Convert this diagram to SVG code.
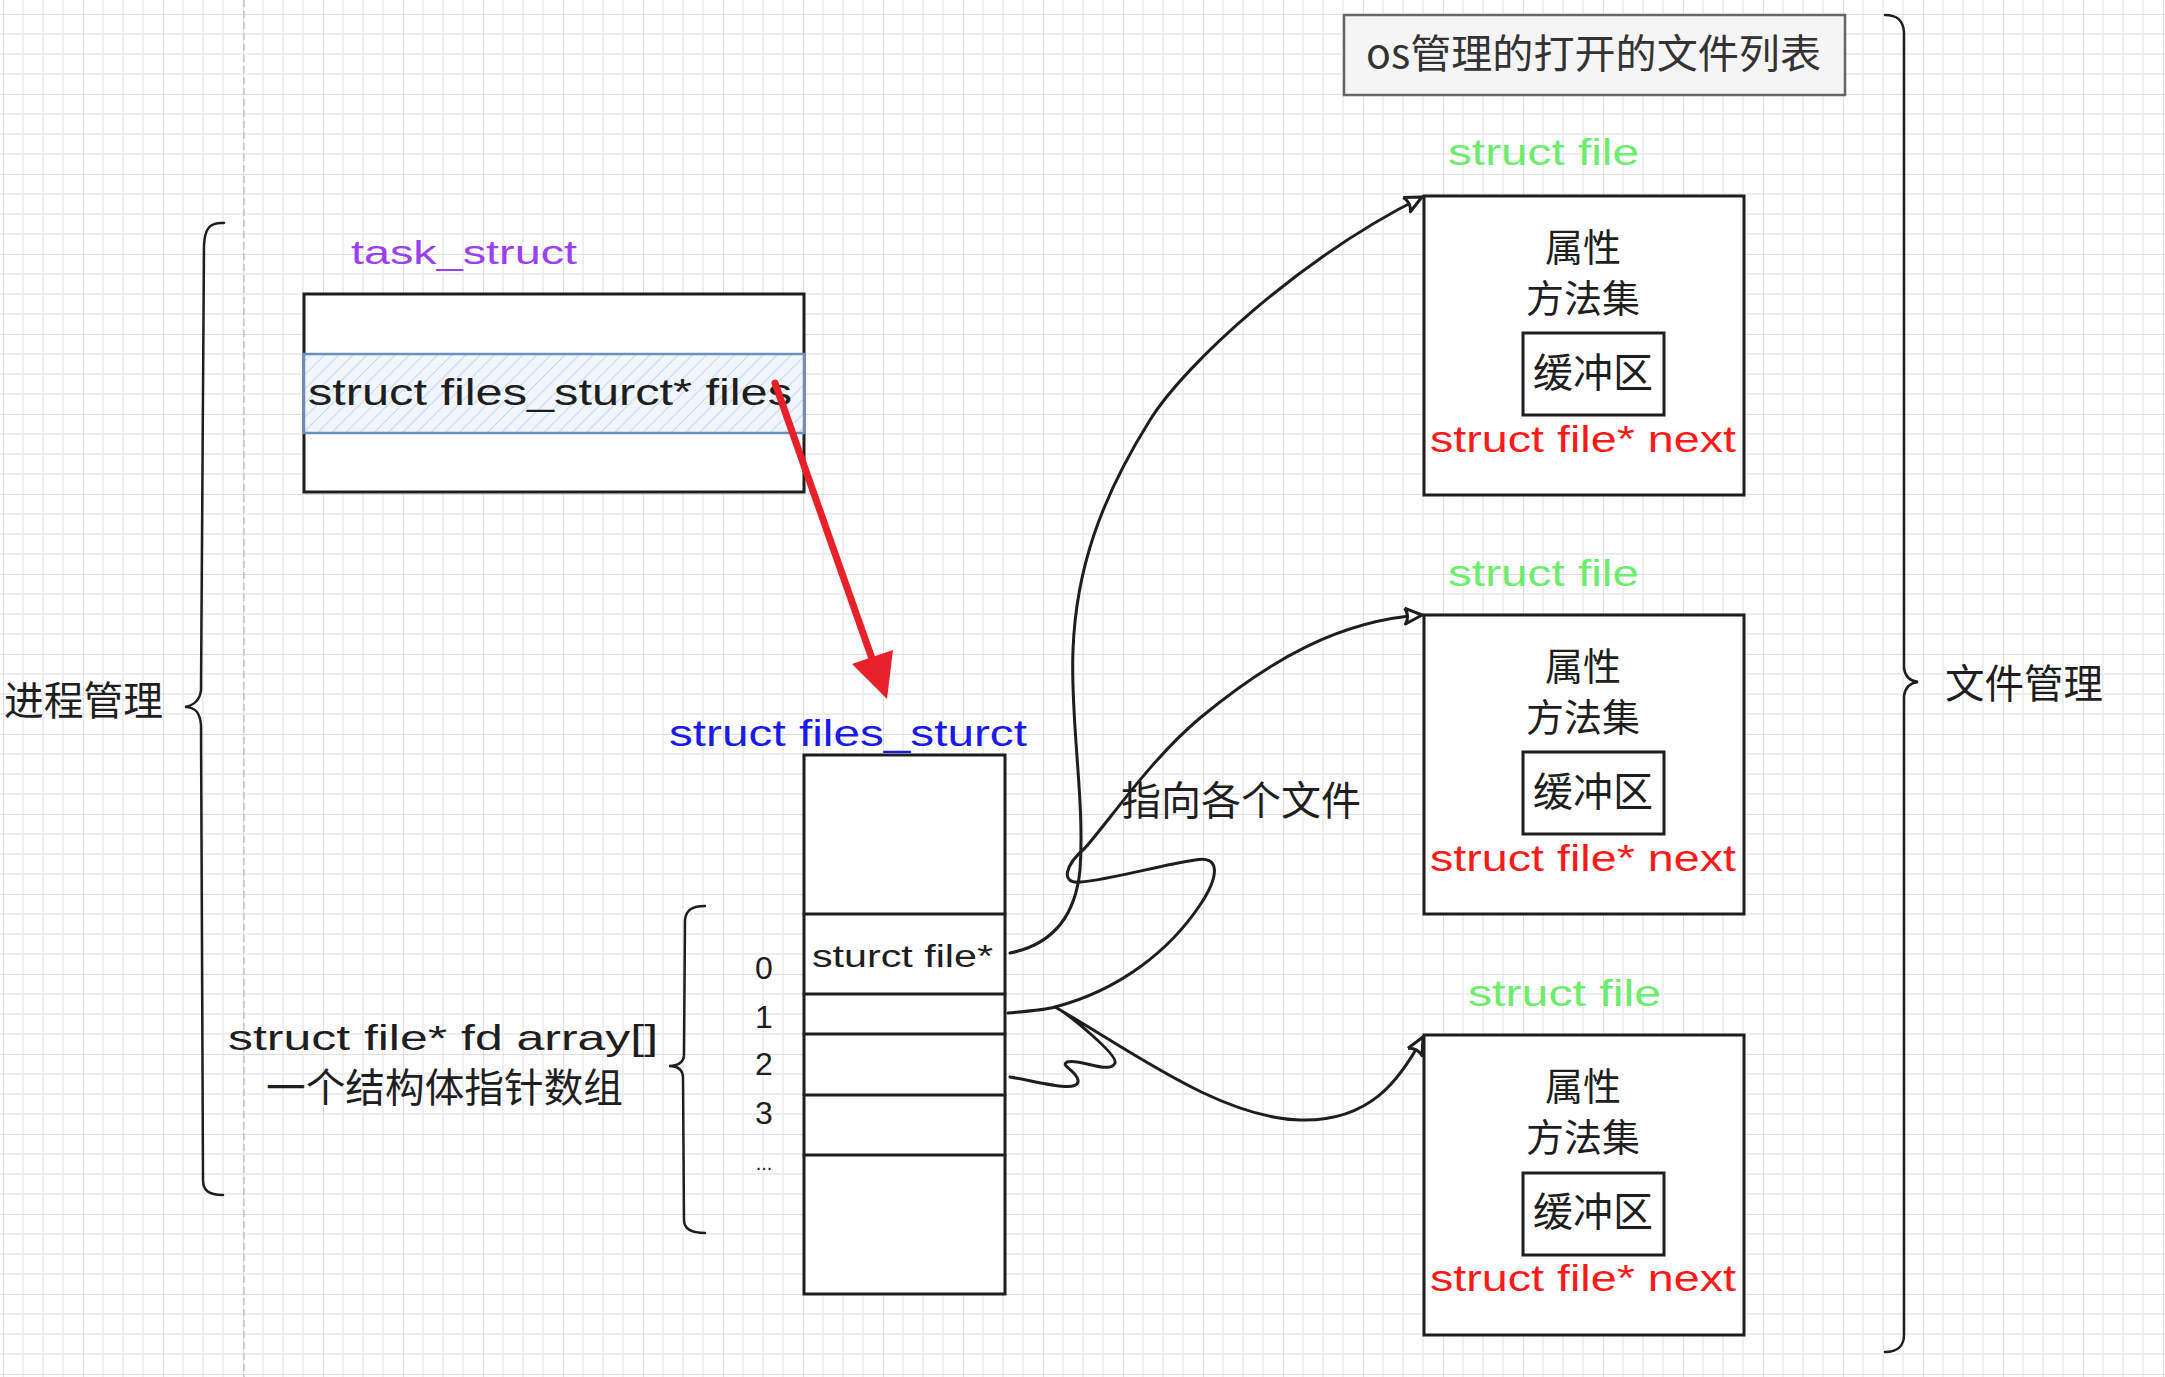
<svg xmlns="http://www.w3.org/2000/svg" width="2165" height="1377" viewBox="0 0 2165 1377">
<defs>
<pattern id="grid" x="3" y="14" width="80" height="80" patternUnits="userSpaceOnUse">
<path d="M20,0V80M40,0V80M60,0V80M0,20H80M0,40H80M0,60H80" stroke="#efefef" stroke-width="2" fill="none"/>
<path d="M0,0V80M0,0H80" stroke="#d3d3d3" stroke-width="1.5" fill="none"/>
</pattern>
<pattern id="hatch" width="10" height="10" patternUnits="userSpaceOnUse" patternTransform="rotate(45)">
<rect width="10" height="10" fill="#f1f6fd"/>
<path d="M0,0V10" stroke="#b9cff0" stroke-width="1.5"/>
</pattern>
<clipPath id="bandclip"><rect x="304" y="354" width="496" height="80"/></clipPath>
<marker id="open" markerUnits="userSpaceOnUse" markerWidth="40" markerHeight="40" viewBox="-25 -20 40 40" refX="0" refY="0" orient="auto" overflow="visible">
<path d="M-17,-8 L0,0 L-17,8 Q-12,0 -17,-8" fill="#fff" stroke="#1e1e1e" stroke-width="3" stroke-linejoin="round"/>
</marker>
</defs>
<style>
.ln{fill:none;stroke:#1e1e1e;stroke-width:3;stroke-linecap:round;stroke-linejoin:round}
.br{fill:none;stroke:#1e1e1e;stroke-width:2.5;stroke-linecap:round}
.box{fill:#fff;stroke:#1e1e1e;stroke-width:3}
.hw{font-family:"Liberation Sans","DejaVu Sans",sans-serif}
.cjk{font-family:"Noto Sans CJK SC","Noto Sans",sans-serif;font-size:40px;fill:#1e1e1e}
.attr{font-size:38px}
.green{fill:#6ded6d;font-size:36px}
.red{fill:#ff1a1a;font-size:36px}
.blk{fill:#1e1e1e}
</style>
<rect width="2165" height="1377" fill="#fff"/>
<rect width="2165" height="1377" fill="url(#grid)"/>
<line x1="244" y1="0" x2="244" y2="1377" stroke="#c4c4c4" stroke-width="1.5" stroke-dasharray="7 4"/>

<g id="process-mgmt">
<path class="br" d="M224,223 C210,222 205,228 204,245 L201,690 C200,700 195,705 185,707 C195,707 200,712 201,725 L203,1180 C203,1190 208,1195 223,1195"/>
<text class="cjk" x="4" y="715" textLength="159" lengthAdjust="spacingAndGlyphs">进程管理</text>
</g>

<g id="task_struct">
<text class="hw" x="351" y="264" font-size="34" fill="#9b3ff2" textLength="226" lengthAdjust="spacingAndGlyphs">task_struct</text>
<rect class="box" x="304" y="294" width="500" height="198"/>
<rect x="304" y="354" width="500" height="79" fill="url(#hatch)" stroke="#6c8ebf" stroke-width="2.5"/>
<text class="hw blk" x="308" y="405" font-size="36" textLength="484" lengthAdjust="spacingAndGlyphs" clip-path="url(#bandclip)">struct files_sturct* files</text>
</g>

<g id="files_struct">
<text class="hw" x="669" y="746" font-size="36" fill="#1a1aee" textLength="358" lengthAdjust="spacingAndGlyphs">struct files_sturct</text>
<rect class="box" x="804" y="755" width="201" height="539"/>
<path class="ln" d="M804,914H1005M804,994H1005M804,1034H1005M804,1095H1005M804,1155H1005"/>
<text class="hw blk" x="812" y="967" font-size="31" textLength="181" lengthAdjust="spacingAndGlyphs">sturct file*</text>
<g class="hw blk" font-size="32" text-anchor="middle">
<text x="764" y="979">0</text>
<text x="764" y="1028">1</text>
<text x="764" y="1075">2</text>
<text x="764" y="1124">3</text>
<text x="764" y="1170" font-size="20">...</text>
</g>
<path class="br" d="M705,906 C692,906 686,910 685,920 L684,1055 C684,1062 678,1066 669,1066 C678,1066 683,1070 683,1078 L684,1220 C684,1228 690,1233 705,1233"/>
<text class="hw blk" x="228" y="1050" font-size="35" textLength="430" lengthAdjust="spacingAndGlyphs">struct file* fd array[]</text>
<text class="cjk" x="266" y="1102" textLength="357" lengthAdjust="spacingAndGlyphs">一个结构体指针数组</text>
</g>

<g id="os-title">
<rect x="1344" y="15" width="501" height="80" fill="#f5f5f5" stroke="#666" stroke-width="2.5"/>
<text class="cjk" x="1366" y="68" style="fill:#333" textLength="455" lengthAdjust="spacingAndGlyphs">os管理的打开的文件列表</text>
</g>

<g id="file-mgmt">
<path class="br" d="M1885,15 C1897,15 1903,20 1904,32 L1904,668 C1905,676 1910,681 1918,682 C1910,683 1905,688 1904,696 L1904,1335 C1904,1345 1898,1352 1885,1352"/>
<text class="cjk" x="1945" y="698" textLength="158" lengthAdjust="spacingAndGlyphs">文件管理</text>
</g>

<g id="file1">
<text class="hw green" x="1448" y="165" textLength="191" lengthAdjust="spacingAndGlyphs">struct file</text>
<rect class="box" x="1424" y="196" width="320" height="299"/>
<text class="cjk attr" x="1583" y="261" text-anchor="middle">属性</text>
<text class="cjk attr" x="1583" y="312" text-anchor="middle">方法集</text>
<rect class="box" x="1523" y="333" width="141" height="82"/>
<text class="cjk" x="1593" y="387" text-anchor="middle">缓冲区</text>
<text class="hw red" x="1430" y="452" textLength="306" lengthAdjust="spacingAndGlyphs">struct file* next</text>
</g>

<g id="file2">
<text class="hw green" x="1448" y="586" textLength="191" lengthAdjust="spacingAndGlyphs">struct file</text>
<rect class="box" x="1424" y="615" width="320" height="299"/>
<text class="cjk attr" x="1583" y="680" text-anchor="middle">属性</text>
<text class="cjk attr" x="1583" y="731" text-anchor="middle">方法集</text>
<rect class="box" x="1523" y="752" width="141" height="82"/>
<text class="cjk" x="1593" y="806" text-anchor="middle">缓冲区</text>
<text class="hw red" x="1430" y="871" textLength="306" lengthAdjust="spacingAndGlyphs">struct file* next</text>
</g>

<g id="file3">
<text class="hw green" x="1468" y="1006" textLength="193" lengthAdjust="spacingAndGlyphs">struct file</text>
<rect class="box" x="1424" y="1035" width="320" height="300"/>
<text class="cjk attr" x="1583" y="1100" text-anchor="middle">属性</text>
<text class="cjk attr" x="1583" y="1151" text-anchor="middle">方法集</text>
<rect class="box" x="1523" y="1173" width="141" height="82"/>
<text class="cjk" x="1593" y="1226" text-anchor="middle">缓冲区</text>
<text class="hw red" x="1430" y="1291" textLength="306" lengthAdjust="spacingAndGlyphs">struct file* next</text>
</g>

<g id="connectors">
<path d="M775,383 L876,670" stroke="#e8202a" stroke-width="7" stroke-linecap="round" fill="none"/>
<polygon points="887,699 852,664 893,650" fill="#e8202a"/>
<path class="ln" stroke-width="2.5" marker-end="url(#open)" d="M1010,953 C1050,945 1075,920 1080,870 C1085,800 1070,720 1073,650 C1076,570 1100,500 1150,420 C1185,364 1300,258 1422,197"/>
<path class="ln" stroke-width="2.5" marker-end="url(#open)" d="M1008,1013 C1030,1011 1045,1010 1055,1007 C1120,990 1170,950 1200,905 C1220,875 1220,855 1195,860 C1160,865 1110,880 1080,882 C1060,884 1065,865 1085,848 C1110,820 1150,760 1200,718 C1270,660 1340,620 1422,615"/>
<path class="ln" stroke-width="2.5" marker-end="url(#open)" d="M1010,1077 C1040,1082 1080,1094 1078,1080 C1076,1070 1060,1066 1067,1062 C1080,1058 1110,1075 1115,1063 C1118,1055 1070,1015 1055,1007 C1130,1050 1220,1118 1300,1120 C1370,1122 1400,1080 1423,1037"/>
<text class="cjk" x="1121" y="815" font-size="38" textLength="240" lengthAdjust="spacingAndGlyphs">指向各个文件</text>
</g>
</svg>
